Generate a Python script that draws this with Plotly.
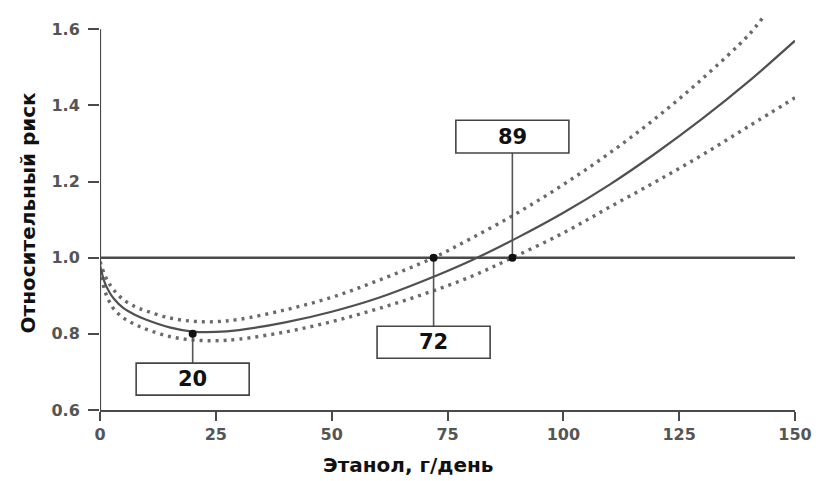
import plotly.graph_objects as go

# ---- data ----
x_mid = [0, 1, 2, 3, 5, 7.5, 10, 15, 20, 25, 30, 40, 50, 60, 70, 80, 90, 100, 110, 120, 130, 140, 150]
rr_mid = [0.98, 0.935, 0.91, 0.892, 0.868, 0.85, 0.837, 0.817, 0.806, 0.805, 0.81, 0.83, 0.858, 0.894, 0.94, 0.992, 1.052, 1.118, 1.192, 1.275, 1.365, 1.463, 1.57]

x_up = [0, 1, 2, 3, 5, 7.5, 10, 15, 20, 25, 30, 40, 50, 60, 72, 80, 90, 100, 110, 120, 130, 140, 143]
rr_up = [0.99, 0.955, 0.932, 0.915, 0.89, 0.872, 0.86, 0.842, 0.833, 0.832, 0.838, 0.863, 0.896, 0.94, 1.0, 1.05, 1.117, 1.192, 1.275, 1.367, 1.47, 1.585, 1.63]

x_lo = [0, 1, 2, 3, 5, 7.5, 10, 15, 20, 25, 30, 40, 50, 60, 70, 80, 89, 100, 110, 120, 130, 140, 150]
rr_lo = [0.97, 0.915, 0.885, 0.865, 0.842, 0.825, 0.812, 0.793, 0.784, 0.782, 0.786, 0.805, 0.832, 0.866, 0.905, 0.95, 1.0, 1.065, 1.133, 1.2, 1.27, 1.345, 1.42]

ref_x = [0, 150]
ref_rr = [1.0, 1.0]

point_x = [20, 72, 89]
point_rr = [0.80, 1.0, 1.0]
point_labels = ["20", "72", "89"]

x_ticks = [0, 25, 50, 75, 100, 125, 150]
y_ticks = [0.6, 0.8, 1.0, 1.2, 1.4, 1.6]
y_ticklabels = ["0.6", "0.8", "1.0", "1.2", "1.4", "1.6"]

x_title = "Этанол, г/день"
y_title = "Относительный риск"

FONT = "DejaVu Sans"
DARK = "#4a4a4a"

fig = go.Figure()

# reference line RR = 1
fig.add_trace(go.Scatter(x=ref_x, y=ref_rr, mode="lines",
                         line=dict(color=DARK, width=2.5), hoverinfo="skip"))
# confidence bounds
for xs, ys in ((x_up, rr_up), (x_lo, rr_lo)):
    fig.add_trace(go.Scatter(x=xs, y=ys, mode="lines", line_shape="spline",
                             line=dict(color="#6a6a6a", width=3.4, dash="3px,5px", smoothing=1.0)))
# main curve
fig.add_trace(go.Scatter(x=x_mid, y=rr_mid, mode="lines", line_shape="spline",
                         line=dict(color="#505050", width=2.2, smoothing=1.0)))

# label boxes and connectors
box_half_w = 12.2
box_y = {"20": (0.639, 0.723), "72": (0.736, 0.820), "89": (1.275, 1.361)}
shapes = []
annotations = []
for px, py, lab in zip(point_x, point_rr, point_labels):
    y0, y1 = box_y[lab]
    conn_end = y1 if y1 < py else y0
    fig.add_trace(go.Scatter(x=[px, px], y=[py, conn_end], mode="lines",
                             line=dict(color="#555555", width=1.6), hoverinfo="skip"))
    shapes.append(dict(type="rect", xref="x", yref="y", x0=px - box_half_w, x1=px + box_half_w,
                       y0=y0, y1=y1, fillcolor="white", line=dict(color="#444444", width=1.6),
                       layer="above"))
    annotations.append(dict(x=px, y=(y0 + y1) / 2, xref="x", yref="y", text=lab, showarrow=False,
                            font=dict(family=FONT, size=21, color="#111111", weight="bold")))

fig.add_trace(go.Scatter(x=point_x, y=point_rr, mode="markers",
                         marker=dict(color="#111111", size=8), hoverinfo="skip"))

# y axis line drawn only from 0.6 to 1.6
shapes.append(dict(type="line", xref="x", yref="y", x0=0, x1=0, y0=y_ticks[0], y1=y_ticks[-1],
                   line=dict(color=DARK, width=2.2)))

annotations.append(dict(x=0.443, y=-0.14, xref="paper", yref="paper", text=x_title, showarrow=False,
                        xanchor="center", yanchor="middle",
                        font=dict(family=FONT, size=20, color="#111111", weight="bold")))
annotations.append(dict(x=-0.103, y=0.5, xref="paper", yref="paper", text=y_title, showarrow=False,
                        textangle=-90, xanchor="center", yanchor="middle",
                        font=dict(family=FONT, size=20, color="#111111", weight="bold")))

fig.update_layout(
    width=824, height=481,
    margin=dict(l=100, r=24, t=14, b=71),
    paper_bgcolor="white", plot_bgcolor="white",
    showlegend=False,
    shapes=shapes,
    annotations=annotations,
    xaxis=dict(range=[0, 150], tickvals=x_ticks, ticks="outside", ticklen=9, tickwidth=2,
               tickcolor=DARK, showline=True, linecolor=DARK, linewidth=2.2,
               showgrid=False, zeroline=False,
               tickfont=dict(family=FONT, size=16, color="#555555", weight="bold")),
    yaxis=dict(range=[0.6, 1.64], tickvals=y_ticks, ticktext=y_ticklabels, ticks="outside",
               ticklen=11, tickwidth=2, tickcolor=DARK, showline=False,
               showgrid=False, zeroline=False, ticklabelstandoff=5,
               tickfont=dict(family=FONT, size=16, color="#555555", weight="bold")),
)

fig.write_html("out.html")
